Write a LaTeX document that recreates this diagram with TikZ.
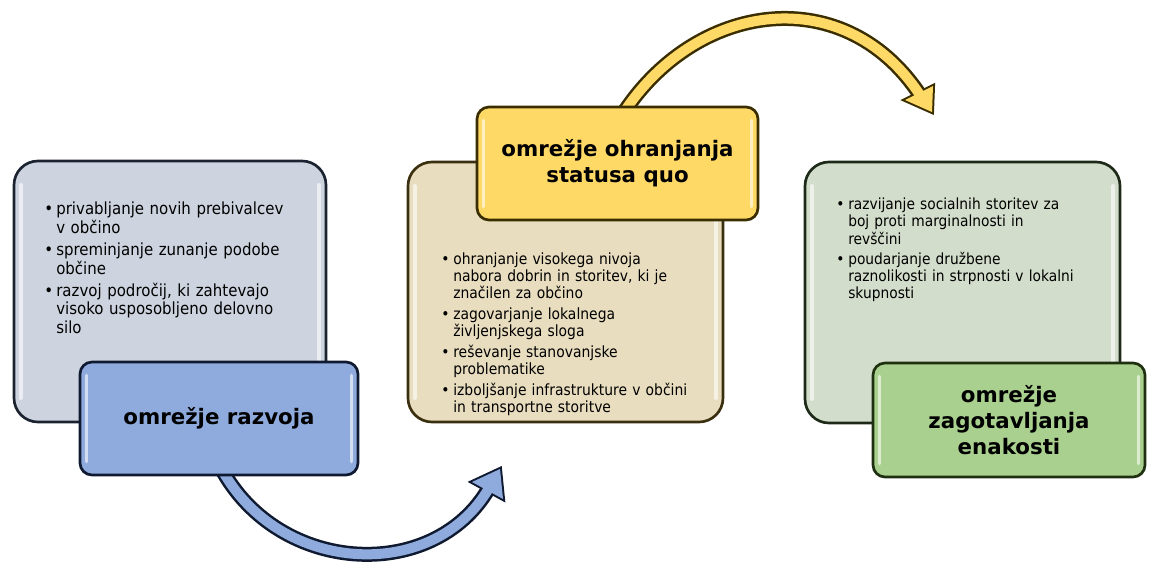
\documentclass[tikz,border=0pt]{standalone}
\usepackage{fontspec}
\setmainfont{DejaVu Sans}[FakeStretch=0.9]
\newfontfamily\titlefont{DejaVu Sans}
\usetikzlibrary{calc}
\definecolor{boxA}{HTML}{CDD4DF}
\definecolor{boxAd}{HTML}{1B2230}
\definecolor{tagA}{HTML}{8FAADC}
\definecolor{tagAd}{HTML}{0F1A30}
\definecolor{boxB}{HTML}{E8DDBF}
\definecolor{boxBd}{HTML}{3A3010}
\definecolor{tagB}{HTML}{FFD966}
\definecolor{tagBd}{HTML}{3A2E00}
\definecolor{boxC}{HTML}{D3DDCB}
\definecolor{boxCd}{HTML}{1E2A18}
\definecolor{tagC}{HTML}{A9D08E}
\definecolor{tagCd}{HTML}{1E3010}
\newcommand{\bitem}[1]{\hangindent=9pt\hangafter=1\noindent\makebox[9pt][l]{\textbullet}#1\par}
\begin{document}
\begin{tikzpicture}[x=0.75pt,y=-0.75pt,
  panel/.style={rounded corners=18pt, line width=2pt, inner sep=0pt,
    path picture={
      \draw[white, opacity=0.6, line width=3pt, line cap=round]
        ([xshift=5pt,yshift=-18pt]path picture bounding box.north west) -- ([xshift=5pt,yshift=18pt]path picture bounding box.south west)
        ([xshift=-5pt,yshift=-18pt]path picture bounding box.north east) -- ([xshift=-5pt,yshift=18pt]path picture bounding box.south east);
    }},
  tag/.style={rounded corners=9pt, line width=2pt, inner sep=0pt, align=center,
    font=\titlefont\bfseries\fontsize{16}{19.5}\selectfont,
    path picture={
      \draw[white, opacity=0.6, line width=2.5pt, line cap=round]
        ([xshift=5pt,yshift=-10pt]path picture bounding box.north west) -- ([xshift=5pt,yshift=10pt]path picture bounding box.south west)
        ([xshift=-5pt,yshift=-10pt]path picture bounding box.north east) -- ([xshift=-5pt,yshift=10pt]path picture bounding box.south east);
    }},
  bullets/.style={anchor=north west, inner sep=0pt, align=left},
  bandout/.style={line width=11.25pt},
  bandin/.style={line width=7.5pt},
]
\useasboundingbox (0,0) rectangle (1149,561);

% ---- curved arrows (drawn first, emerge from under the tags)
\coordinate (a1s) at (218,462);
\coordinate (a1c1) at (273,575);
\coordinate (a1c2) at (433,585);
\coordinate (a1e) at (489,488);
\coordinate (a1w1) at (472,482);
\coordinate (a1t) at (500,469);
\coordinate (a1w2) at (503,499);
\draw[bandout, tagAd] (a1s) .. controls (a1c1) and (a1c2) .. (a1e);
\filldraw[tagAd, line width=3pt, line join=miter] (a1w1) -- (a1t) -- (a1w2) -- cycle;
\draw[bandin, tagA] (a1s) .. controls (a1c1) and (a1c2) .. (a1e);
\fill[tagA] (a1w1) -- (a1t) -- (a1w2) -- cycle;

\coordinate (a2s) at (616,125);
\coordinate (a2c1) at (687,2);
\coordinate (a2c2) at (842,-23);
\coordinate (a2e) at (920,95);
\coordinate (a2w1) at (905,100);
\coordinate (a2t) at (932,112);
\coordinate (a2w2) at (933,86);
\draw[bandout, tagBd] (a2s) .. controls (a2c1) and (a2c2) .. (a2e);
\filldraw[tagBd, line width=3pt, line join=miter] (a2w1) -- (a2t) -- (a2w2) -- cycle;
\draw[bandin, tagB] (a2s) .. controls (a2c1) and (a2c2) .. (a2e);
\fill[tagB] (a2w1) -- (a2t) -- (a2w2) -- cycle;

% ---- panel 1
\node[panel, draw=boxAd, fill=boxA, minimum width=312*0.75pt, minimum height=261*0.75pt] (p1) at (170,291.5) {};
\node[bullets, text width=280*0.75pt, font=\fontsize{12.5}{13.9}\selectfont] (t1) at (44,202) {%
\setlength\parskip{2.6pt}%
\bitem{privabljanje novih prebivalcev\newline v občino}%
\bitem{spreminjanje zunanje podobe\newline občine}%
\bitem{razvoj področij, ki zahtevajo\newline visoko usposobljeno delovno\newline silo}};
\node[tag, draw=tagAd, fill=tagA, minimum width=278*0.75pt, minimum height=113*0.75pt] (g1) at (219,418.5) {omrežje razvoja};

% ---- panel 2
\node[panel, draw=boxBd, fill=boxB, minimum width=315*0.75pt, minimum height=260*0.75pt] (p2) at (565.5,292) {};
\node[bullets, text width=300*0.75pt, font=\fontsize{11.6}{12.75}\selectfont] (t2) at (441,252.5) {%
\setlength\parskip{3pt}%
\bitem{ohranjanje visokega nivoja\newline nabora dobrin in storitev, ki je\newline značilen za občino}%
\bitem{zagovarjanje lokalnega\newline življenjskega sloga}%
\bitem{reševanje stanovanjske\newline problematike}%
\bitem{izboljšanje infrastrukture v občini\newline in transportne storitve}};
\node[tag, draw=tagBd, fill=tagB, minimum width=281*0.75pt, minimum height=113*0.75pt] (g2) at (617.5,163.5) {omrežje ohranjanja\\statusa quo};

% ---- panel 3
\node[panel, draw=boxCd, fill=boxC, minimum width=315*0.75pt, minimum height=261*0.75pt] (p3) at (962.5,292.5) {};
\node[bullets, text width=300*0.75pt, font=\fontsize{11.5}{13}\selectfont] (t3) at (836,197.5) {%
\setlength\parskip{2pt}%
\bitem{razvijanje socialnih storitev za\newline boj proti marginalnosti in\newline revščini}%
\bitem{poudarjanje družbene\newline raznolikosti in strpnosti v lokalni\newline skupnosti}};
\node[tag, draw=tagCd, fill=tagC, minimum width=272*0.75pt, minimum height=114*0.75pt] (g3) at (1009,420) {omrežje\\zagotavljanja\\enakosti};
\end{tikzpicture}
\end{document}
